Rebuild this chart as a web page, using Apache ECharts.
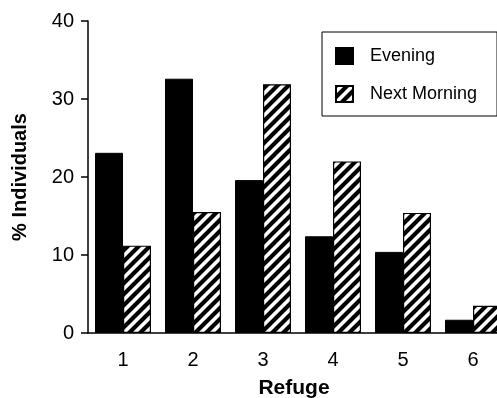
<!DOCTYPE html>
<html>
<head>
<meta charset="utf-8">
<script src="https://cdn.jsdelivr.net/npm/echarts@6/dist/echarts.min.js"></script>
<style>html,body{margin:0;padding:0;background:#fff;}#c{width:497px;height:398px;}</style>
</head>
<body>
<div id="c"></div>
<script>
const categories = ['1', '2', '3', '4', '5', '6'];
const evening = [23.1, 32.6, 19.6, 12.4, 10.4, 1.7];
const nextMorning = [11.2, 15.5, 31.9, 22.0, 15.4, 3.5];
const yTicks = [0, 10, 20, 30, 40];

function hatch() {
  const s = 11;
  const cv = document.createElement('canvas');
  cv.width = s; cv.height = s;
  const g = cv.getContext('2d');
  g.fillStyle = '#fff'; g.fillRect(0, 0, s, s);
  g.strokeStyle = '#000'; g.lineWidth = 4.2;
  g.beginPath();
  for (let k = -1; k <= 1; k++) {
    g.moveTo(-3 + k * s, s + 3); g.lineTo(s + 3 + k * s, -3);
  }
  g.stroke();
  return cv;
}

const font = 'Liberation Sans';
const chart = echarts.init(document.getElementById('c'), null, {renderer: 'canvas'});
chart.setOption({
  animation: false,
  backgroundColor: '#fff',
  grid: {left: 88, top: 21, width: 420, height: 312, containLabel: false, outerBoundsMode: 'none'},
  legend: {
    left: 322, top: 32,
    orient: 'vertical',
    itemWidth: 17, itemHeight: 16, itemGap: 20,
    padding: [15, 20, 13, 13],
    borderColor: '#000', borderWidth: 1,
    icon: 'rect',
    textStyle: {fontFamily: font, fontSize: 18, color: '#000', padding: [0, 0, 0, 12]},
    data: ['Evening', 'Next Morning']
  },
  xAxis: {
    type: 'category',
    data: categories,
    boundaryGap: true,
    name: 'Refuge',
    nameLocation: 'middle',
    nameGap: 45,
    nameTextStyle: {fontFamily: font, fontSize: 21, fontWeight: 'bold', color: '#000', padding: [0, 8, 0, 0]},
    axisLine: {lineStyle: {color: '#000', width: 1.5}},
    axisTick: {alignWithLabel: true, length: 6, lineStyle: {color: '#000', width: 1.5}},
    axisLabel: {fontFamily: font, fontSize: 20, color: '#000', margin: 17}
  },
  yAxis: {
    type: 'value',
    min: yTicks[0], max: yTicks[yTicks.length - 1], interval: 10,
    name: '% Individuals',
    nameLocation: 'middle',
    nameGap: 58,
    nameTextStyle: {fontFamily: font, fontSize: 20, fontWeight: 'bold', color: '#000'},
    axisLine: {show: true, lineStyle: {color: '#000', width: 1.5}},
    axisTick: {show: true, length: 7, lineStyle: {color: '#000', width: 1.5}},
    axisLabel: {fontFamily: font, fontSize: 20, color: '#000', margin: 14},
    splitLine: {show: false}
  },
  series: [
    {
      name: 'Evening', type: 'bar', data: evening,
      barWidth: 28, barGap: '0%',
      itemStyle: {color: '#000', borderColor: '#000', borderWidth: 1}
    },
    {
      name: 'Next Morning', type: 'bar', data: nextMorning,
      barWidth: 28, barGap: '0%',
      itemStyle: {color: {image: hatch(), repeat: 'repeat'}, borderColor: '#000', borderWidth: 1.2}
    }
  ]
});
</script>
</body>
</html>
